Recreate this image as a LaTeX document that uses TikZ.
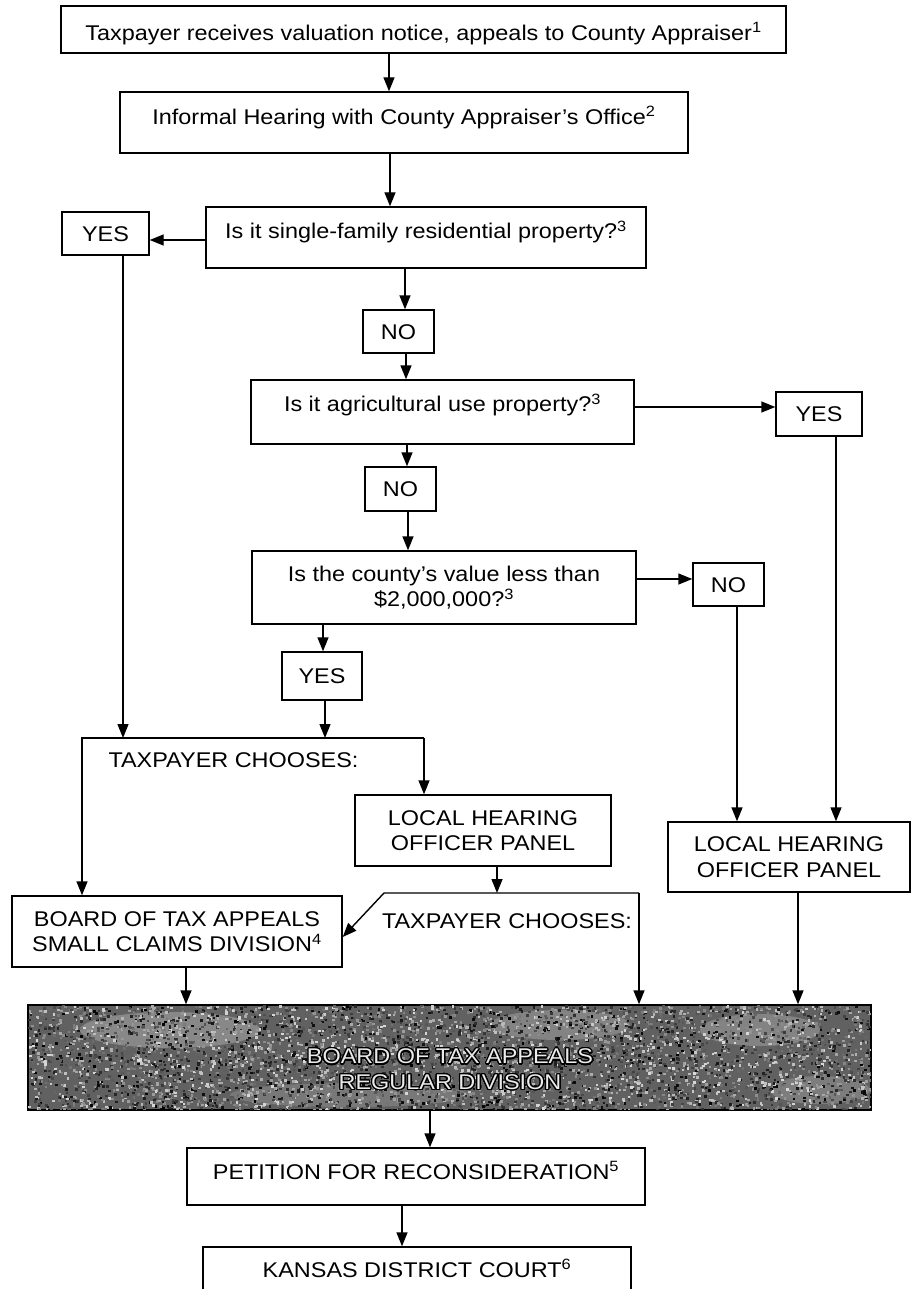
\documentclass[tikz,border=0pt]{standalone}
\usepackage{fontspec}
\setmainfont{Liberation Sans}[FakeStretch=1.1]
\usepackage{contour}
\contourlength{1.2pt}
\contournumber{20}
\usetikzlibrary{arrows.meta}
\begin{document}
\begin{tikzpicture}[x=1pt,y=-1pt,
  lw/.style={line width=1.4pt},
  boxbase/.style={draw, lw, fill=white, inner sep=0pt, align=center,
    font=\fontsize{21.3}{25.6}\selectfont},
  box/.style={boxbase, text height=15.5pt, text depth=0pt},
  txt/.style={inner sep=0pt, text height=15.5pt, text depth=0pt,
    font=\fontsize{21.3}{25.6}\selectfont},
  arr/.style={lw, -{Triangle[length=14pt,width=11pt]}},
  ln/.style={lw}]
\useasboundingbox (0,0) rectangle (911,1289);

% columns / rows
\coordinate (c389) at (389,0);
\coordinate (c390) at (390,0);
\coordinate (c405) at (405,0);
\coordinate (c406) at (406,0);
\coordinate (c407) at (407,0);
\coordinate (c408) at (408,0);
\coordinate (c323) at (323,0);
\coordinate (c123) at (123,0);
\coordinate (c325) at (325,0);
\coordinate (c497) at (497,0);
\coordinate (c737) at (737,0);
\coordinate (c836) at (836,0);
\coordinate (c186) at (186,0);
\coordinate (c798) at (798,0);
\coordinate (c430) at (430,0);
\coordinate (c402) at (402,0);
\coordinate (r240) at (0,240);
\coordinate (r407) at (0,407);
\coordinate (r579) at (0,579);
\coordinate (br1L) at (82,738);
\coordinate (br1R) at (424,738);
\coordinate (br2L) at (384,893);
\coordinate (br2R) at (639,893);

% boxes
\node[box, minimum width=725pt, minimum height=47pt, text height=21.5pt] (top) at (423.5,29.5)
  {Taxpayer receives valuation notice, appeals to County Appraiser\textsuperscript{1}};
\node[box, minimum width=568pt, minimum height=61pt, text depth=12pt] (inf) at (404,122.5)
  {Informal Hearing with County Appraiser's Office\textsuperscript{2}};
\node[box, minimum width=440pt, minimum height=61pt, text depth=13pt] (sf) at (426,237.5)
  {Is it single-family residential property?\textsuperscript{3}};
\node[box, minimum width=87pt, minimum height=43pt] (yesL) at (105.5,233.5) {YES};
\node[box, minimum width=71pt, minimum height=43pt] (no1) at (398.5,331.5) {NO};
\node[box, minimum width=383pt, minimum height=64pt, text depth=16pt] (agri) at (442.5,412)
  {Is it agricultural use property?\textsuperscript{3}};
\node[box, minimum width=86pt, minimum height=44pt] (yesR) at (819,414) {YES};
\node[box, minimum width=71pt, minimum height=44pt] (no2) at (400.5,489) {NO};
\node[boxbase, minimum width=384pt, minimum height=73pt] (county) at (444,587.5)
  {Is the county's value less than\\\$2,000,000?\textsuperscript{3}};
\node[box, minimum width=71pt, minimum height=43pt] (no3) at (728.5,584.5) {NO};
\node[box, minimum width=80pt, minimum height=48pt] (yes2) at (322,676) {YES};
\node[txt] (tc1) at (233.5,759.5) {TAXPAYER CHOOSES:};
\node[boxbase, minimum width=256pt, minimum height=71pt] (lhop1) at (483,830.5)
  {LOCAL HEARING\\OFFICER PANEL};
\node[boxbase, minimum width=242pt, minimum height=70pt] (lhop2) at (789,857)
  {LOCAL HEARING\\OFFICER PANEL};
\node[boxbase, minimum width=330pt, minimum height=71pt] (small) at (177,931.5)
  {BOARD OF TAX APPEALS\\SMALL CLAIMS DIVISION\textsuperscript{4}};
\node[txt] (tc2) at (507,921) {TAXPAYER CHOOSES:};

% regular division with scanned texture
\node[draw, lw, fill=black!62, inner sep=0pt, minimum width=843pt, minimum height=105pt] (regular) at (449.5,1057.5) {};
\begin{scope}
  \clip (regular.south west) rectangle (regular.north east);
  \fill[white, opacity=0.25] (170,1030) ellipse (90 and 18);
  \fill[white, opacity=0.22] (560,1025) ellipse (70 and 15);
  \fill[white, opacity=0.22] (760,1030) ellipse (60 and 16);
  \fill[white, opacity=0.15] (350,1095) ellipse (120 and 12);
  \fill[white, opacity=0.18] (820,1090) ellipse (50 and 14);
  \pgfmathsetseed{7}
  \foreach \i in {1,...,5500}{
    \pgfmathsetmacro{\rx}{28+843*rnd}
    \pgfmathsetmacro{\ry}{1005+105*rnd}
    \pgfmathtruncatemacro{\g}{15+85*rnd}
    \fill[black!\g] (\rx,\ry) rectangle ++(2.6,2.4);
  }
\end{scope}
\draw[lw] (regular.south west) rectangle (regular.north east);
\node[inner sep=0pt, align=center, text=black!8, font=\fontsize{21.3}{25.6}\selectfont] (regt) at (450,1070)
  {\contour{black}{BOARD OF TAX APPEALS}\\\contour{black}{REGULAR DIVISION}};

\node[box, minimum width=458pt, minimum height=57pt, text depth=10pt] (pet) at (416,1176.5)
  {PETITION FOR RECONSIDERATION\textsuperscript{5}};
\node[box, minimum width=428pt, minimum height=45pt] (kan) at (417,1269.5)
  {KANSAS DISTRICT COURT\textsuperscript{6}};

% connectors
\draw[arr] (top.south -| c389) -- (inf.north -| c389);
\draw[arr] (inf.south -| c390) -- (sf.north -| c390);
\draw[arr] (sf.west |- r240) -- (yesL.east |- r240);
\draw[arr] (sf.south -| c405) -- (no1.north -| c405);
\draw[arr] (no1.south -| c406) -- (agri.north -| c406);
\draw[arr] (agri.east |- r407) -- (yesR.west |- r407);
\draw[arr] (agri.south -| c407) -- (no2.north -| c407);
\draw[arr] (no2.south -| c408) -- (county.north -| c408);
\draw[arr] (county.east |- r579) -- (no3.west |- r579);
\draw[arr] (county.south -| c323) -- (yes2.north -| c323);
\draw[arr] (yesL.south -| c123) -- (c123 |- br1L);
\draw[arr] (yes2.south -| c325) -- (c325 |- br1L);
\draw[arr] (br1R) -- (br1L) -- (small.north -| br1L);
\draw[arr] (br1R) -- (lhop1.north -| br1R);
\draw[arr] (lhop1.south -| c497) -- (c497 |- br2L);
\draw[arr] (br2R) -- (br2L) -- ([yshift=-5.5pt]small.east);
\draw[arr] (br2R) -- (regular.north -| br2R);
\draw[arr] (no3.south -| c737) -- (lhop2.north -| c737);
\draw[arr] (yesR.south -| c836) -- (lhop2.north -| c836);
\draw[arr] (small.south -| c186) -- (regular.north -| c186);
\draw[arr] (lhop2.south -| c798) -- (regular.north -| c798);
\draw[arr] (regular.south -| c430) -- (pet.north -| c430);
\draw[arr] (pet.south -| c402) -- (kan.north -| c402);
\end{tikzpicture}
\end{document}
